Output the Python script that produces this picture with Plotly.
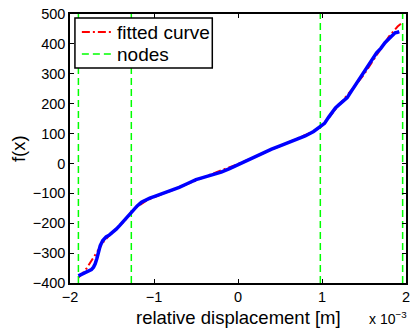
import numpy as np
import plotly.graph_objects as go

# measured data (x in 1e-3 m, f in N)
data_x = [-1.90, -1.86, -1.82, -1.78, -1.745, -1.72, -1.70, -1.68, -1.66, -1.64,
          -1.61, -1.57, -1.53, -1.49, -1.45, -1.41, -1.37, -1.33, -1.29, -1.25,
          -1.20, -1.15, -1.10, -1.05, -1.00, -0.94, -0.80, -0.70, -0.60, -0.50,
          -0.40, -0.30, -0.20, -0.10, 0.00, 0.10, 0.20, 0.30, 0.40, 0.50,
          0.60, 0.70, 0.80, 0.90, 0.98, 1.03, 1.08, 1.12, 1.16, 1.20,
          1.25, 1.30, 1.35, 1.40, 1.45, 1.50, 1.55, 1.60, 1.65, 1.70,
          1.75, 1.80, 1.84, 1.87, 1.90, 1.92]
data_y = [-376, -371, -365, -360, -355, -347, -336, -318, -296, -275,
          -258, -246, -239, -230, -220, -208, -195, -181, -167, -155,
          -142, -130, -122, -116, -111, -105, -92, -80, -67, -54,
          -46, -38, -29, -17, -4, 9, 22, 37, 48, 59,
          69, 80, 92, 107, 123, 134, 155, 172, 186, 196,
          207, 220, 242, 264, 284, 304, 326, 348, 370, 385,
          404, 418, 430, 437, 439, 441]

# fitted curve
fit_x = [-1.90, -1.85, -1.80, -1.75, -1.70, -1.65, -1.60, -1.55, -1.50, -1.45,
         -1.40, -1.35, -1.30, -1.27, -1.20, -1.10, -1.00, -0.90, -0.80, -0.70,
         -0.60, -0.50, -0.40, -0.30, -0.20, -0.10, 0.00, 0.10, 0.20, 0.30,
         0.40, 0.50, 0.60, 0.70, 0.80, 0.90, 0.98, 1.05, 1.10, 1.20,
         1.30, 1.40, 1.50, 1.60, 1.70, 1.80, 1.90, 1.96]
fit_y = [-382, -368, -350, -328, -305, -282, -262, -246, -232, -220,
         -207, -192, -175, -163, -145, -126, -113, -103, -92, -80,
         -68, -56, -44, -34, -23, -13, -2, 10, 22, 34,
         46, 58, 69, 81, 93, 107, 121, 142, 160, 195,
         228, 262, 298, 340, 385, 426, 458, 472]

# spline nodes
nodes = [-1.90, -1.27, 0.98, 1.96]

legend_labels = ["fitted curve", "nodes"]
x_title = "relative displacement [m]"
y_title = "f(x)"
x_scale_label = "x 10<sup>−3</sup>"

y_range = [-400, 500]
x_range = [-2, 2]
x_ticks = [-2, -1, 0, 1, 2]
y_ticks = list(range(-400, 501, 100))

FONT = "Liberation Sans, Arial, Helvetica, sans-serif"
RED = "#ff0000"
GREEN = "#00ff00"
RED_DASH = "8px,3px,2px,3px"
GREEN_DASH = "7px,4px"

node_x, node_y = [], []
for n in nodes:
    node_x += [n, n, None]
    node_y += [y_range[0], y_range[1], None]

fig = go.Figure()
fig.add_trace(go.Scatter(x=fit_x, y=fit_y, mode="lines", name=legend_labels[0],
                         showlegend=False,
                         line=dict(color=RED, width=2, dash=RED_DASH)))
fig.add_trace(go.Scatter(x=node_x, y=node_y, mode="lines", name=legend_labels[1],
                         showlegend=False,
                         line=dict(color=GREEN, width=1.5, dash=GREEN_DASH)))
fig.add_trace(go.Scatter(x=data_x, y=data_y, mode="lines", showlegend=False,
                         line=dict(color="#0000ff", width=3.5)))

axis_common = dict(showline=True, linecolor="black", linewidth=1.5, mirror="allticks",
                   ticks="inside", ticklen=4, tickwidth=1, tickcolor="black",
                   showgrid=False, zeroline=False,
                   tickfont=dict(family=FONT, size=14.5, color="black"))

fig.update_xaxes(range=x_range, tickvals=x_ticks, **axis_common)
fig.update_yaxes(range=y_range, tickvals=y_ticks, **axis_common)

# axis titles
fig.add_annotation(text=x_title, xref="paper", yref="paper", x=0.5, y=-0.1265,
                   xanchor="center", yanchor="middle", showarrow=False,
                   font=dict(family=FONT, size=18.5, color="black"))
fig.add_annotation(text=y_title, xref="paper", yref="paper", x=-0.153, y=0.5,
                   xanchor="center", yanchor="middle", showarrow=False, textangle=-90,
                   font=dict(family=FONT, size=18.5, color="black"))

fig.add_annotation(text=x_scale_label, xref="paper", yref="paper",
                   x=0.885, y=-0.13, xanchor="left", yanchor="middle", showarrow=False,
                   font=dict(family=FONT, size=14, color="black"))

# legend box (drawn manually to match the compact MATLAB legend)
box = dict(x0=0.0147, x1=0.4235, y0=0.7993, y1=0.9851)
rows_y = [0.933, 0.851]
styles = [(RED, 2, RED_DASH), (GREEN, 1.5, GREEN_DASH)]
fig.add_shape(type="rect", xref="paper", yref="paper", **box,
              fillcolor="white", line=dict(color="black", width=1.5), layer="above")
for label, ry, (col, w, d) in zip(legend_labels, rows_y, styles):
    fig.add_shape(type="line", xref="paper", yref="paper", x0=0.0353, x1=0.1265,
                  y0=ry, y1=ry, line=dict(color=col, width=w, dash=d), layer="above")
    fig.add_annotation(text=label, xref="paper", yref="paper", x=0.1335, y=ry,
                       xanchor="left", yanchor="middle", showarrow=False,
                       font=dict(family=FONT, size=19, color="black"))

fig.update_layout(
    width=414, height=329,
    margin=dict(l=70, r=4, t=14, b=46),
    paper_bgcolor="white", plot_bgcolor="white",
    font=dict(family=FONT, color="black"),
    showlegend=False,
)

fig.write_html("out.html")
